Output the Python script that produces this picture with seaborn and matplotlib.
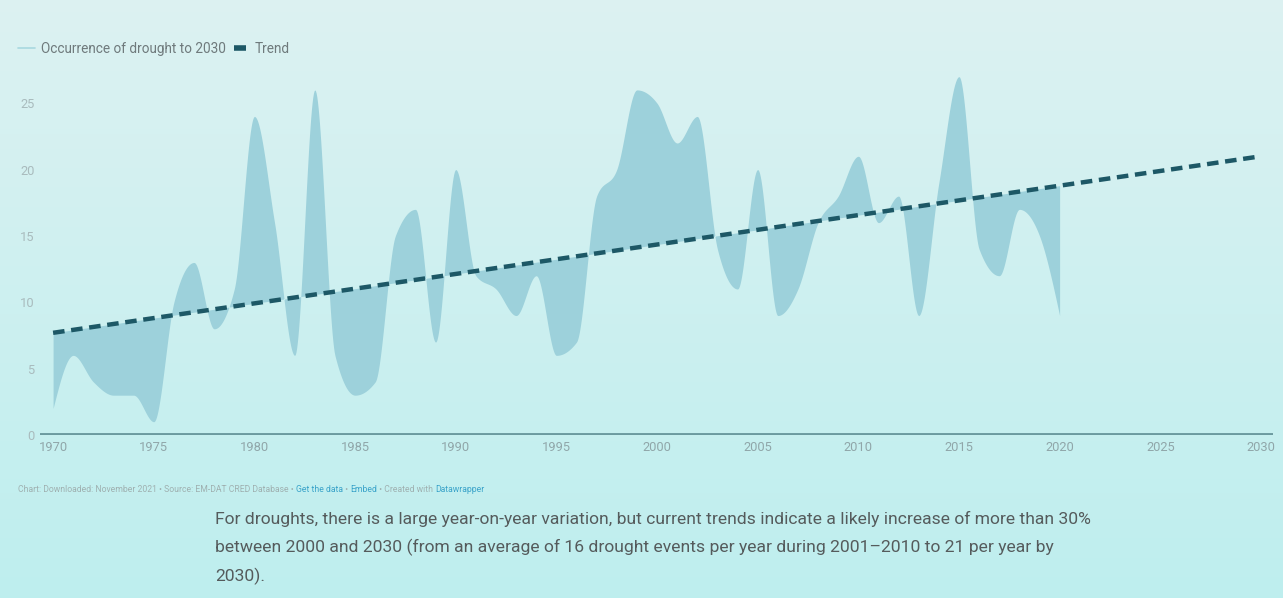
import numpy as np
import pandas as pd
import matplotlib
matplotlib.use("Agg")
import matplotlib.pyplot as plt
from matplotlib.lines import Line2D
import seaborn as sns

# ---- data ----
years = list(range(1970, 2021))
occurrences = [2, 6, 4, 3, 3, 1, 10, 13, 8, 11,
               24, 16, 6, 26, 6, 3, 4, 15, 17, 7,
               20, 12, 11, 9, 12, 6, 7, 18, 20, 26,
               25, 22, 24, 14, 11, 20, 9, 11, 16, 18,
               21, 16, 18, 9, 19, 27, 14, 12, 17, 15,
               9]
trend_years = [1970, 2030]
trend_values = [7.7, 21.0]
y_ticks = [0, 5, 10, 15, 20, 25]
x_ticks = list(range(1970, 2031, 5))

legend_labels = ["Occurrence of drought to 2030", "Trend"]
footer_parts = [("Chart: Downloaded: November 2021 \u2022 Source: EM-DAT CRED Database \u2022 ", "#9fb0b0"),
                ("Get the data", "#3aa3c9"), (" \u2022 ", "#9fb0b0"), ("Embed", "#3aa3c9"),
                (" \u2022 Created with ", "#9fb0b0"), ("Datawrapper", "#3aa3c9")]
caption_lines = ["For droughts, there is a large year-on-year variation, but current trends indicate a likely increase of more than 30%",
                 "between 2000 and 2030 (from an average of 16 drought events per year during 2001\u20132010 to 21 per year by",
                 "2030)."]

# ---- smooth rendering (monotone cubic, like d3.curveMonotoneX) ----
def monotone_curve(x, y, n_per=30):
    x = np.asarray(x, float); y = np.asarray(y, float)
    h = np.diff(x); d = np.diff(y) / h
    m = np.zeros_like(y)
    for k in range(1, len(y) - 1):
        p = (d[k - 1] * h[k] + d[k] * h[k - 1]) / (h[k - 1] + h[k])
        m[k] = (np.sign(d[k - 1]) + np.sign(d[k])) * min(abs(d[k - 1]), abs(d[k]), 0.5 * abs(p))
    m[0] = (3 * d[0] - m[1]) / 2
    m[-1] = (3 * d[-1] - m[-2]) / 2
    xs, ys = [], []
    for k in range(len(x) - 1):
        t = np.linspace(0, 1, n_per, endpoint=False)
        h00 = 2 * t**3 - 3 * t**2 + 1
        h10 = t**3 - 2 * t**2 + t
        h01 = -2 * t**3 + 3 * t**2
        h11 = t**3 - t**2
        xs.append(x[k] + t * h[k])
        ys.append(h00 * y[k] + h10 * h[k] * m[k] + h01 * y[k + 1] + h11 * h[k] * m[k + 1])
    xs.append([x[-1]]); ys.append([y[-1]])
    return np.concatenate(xs), np.concatenate(ys)

sns.set_theme(style="white")
plt.rcParams['font.family'] = ['Roboto', 'DejaVu Sans']

W, H = 1283, 598
fig = plt.figure(figsize=(W / 100, H / 100), dpi=100)

# background gradient
bg = fig.add_axes([0, 0, 1, 1], zorder=-10)
top = np.array([0.865, 0.948, 0.948])
bot = np.array([0.745, 0.935, 0.935])
grad = np.linspace(0, 1, 256)[:, None, None]
img = top * (1 - grad) + bot * grad
bg.imshow(np.repeat(img, 4, axis=1), aspect="auto", extent=[0, 1, 0, 1])
bg.set_axis_off()

ax = fig.add_axes([40 / W, 163 / H, 1233 / W, 365 / H])
ax.set_facecolor("none")

sx, sy = monotone_curve(years, occurrences)
trend_at = np.interp(sx, trend_years, trend_values)
ax.fill_between(sx, sy, trend_at, color="#9dd1db", lw=0, zorder=1)

df_trend = pd.DataFrame({"year": trend_years, "value": trend_values})
sns.lineplot(data=df_trend, x="year", y="value", ax=ax, color="#1d5866",
             lw=3.2, zorder=3)
ax.lines[-1].set_dashes([2.6, 1.5])

ax.axhline(0, color="#6c9a9f", lw=2.8, zorder=2)

ax.set_xlim(1969.35, 2030.6)
ax.set_ylim(0, 27.5)
ax.set_xticks(x_ticks)
ax.set_yticks(y_ticks)
ax.set_xticklabels([str(v) for v in x_ticks])
ax.tick_params(axis="both", length=0, labelsize=9.3)
ax.tick_params(axis="x", pad=4, labelcolor="#90a6a9")
ax.tick_params(axis="y", pad=4, labelcolor="#a9bbbd")
ax.set_xlabel(""); ax.set_ylabel("")
for s in ax.spines.values():
    s.set_visible(False)
ax.grid(False)

handles = [Line2D([], [], color="#a8d8df", lw=1.2),
           Line2D([], [], color="#1d5866", ls="", marker="_", markersize=8, mew=4)]
leg = fig.legend(handles, legend_labels, loc="upper left", bbox_to_anchor=(6 / W, 1 - 30 / H),
                 ncol=2, frameon=False, fontsize=9.8, handlelength=1.2, handletextpad=0.5,
                 columnspacing=0.4, labelcolor="#6f7a7c")

# footer with coloured parts
x0 = 18
renderer = fig.canvas.get_renderer()
for txt, col in footer_parts:
    t = fig.text(x0 / W, 1 - 490 / H, txt, fontsize=6.2, color=col, va="center", ha="left")
    bb = t.get_window_extent(renderer=renderer)
    x0 += bb.width

for i, line in enumerate(caption_lines):
    fig.text(215 / W, 1 - (519 + 28.5 * i) / H, line, fontsize=12.6, color="#555b5c",
             va="center", ha="left")

fig.savefig("out.png", dpi=100)
